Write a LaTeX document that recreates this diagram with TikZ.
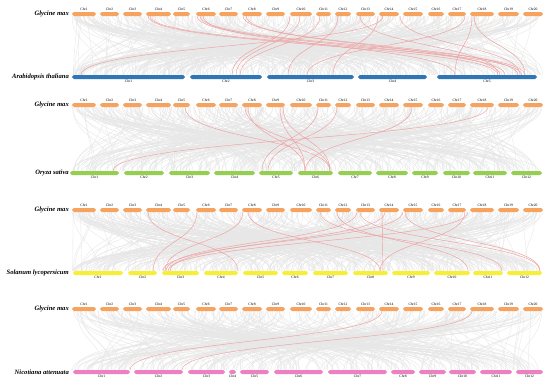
\documentclass[tikz,border=0pt]{standalone}
\usepackage{fontspec}
\setmainfont{Liberation Serif}
\definecolor{gorange}{HTML}{F5A35E}
\definecolor{ablue}{HTML}{2F76B6}
\definecolor{ogreen}{HTML}{94CF52}
\definecolor{syellow}{HTML}{F6EF36}
\definecolor{npink}{HTML}{EC80C1}
\definecolor{synt}{HTML}{E7E7E7}
\definecolor{redl}{HTML}{EFA0A0}
\tikzset{
  chrbar/.style={inner sep=0pt, outer sep=0pt, draw=none, minimum height=4pt, rounded corners=1.8pt},
  chrlab/.style={font=\fontsize{3.6}{4}\selectfont, inner sep=0pt},
  spec/.style={font=\fontsize{6.6}{7}\selectfont\bfseries\itshape, anchor=east, inner sep=0pt},
  grey link/.style={draw=synt, line width=0.35pt},
  red link/.style={draw=redl, line width=0.45pt},
}
% #1 name prefix, #2 bar y, #3 colour, #4 label offset, #5 start/end list
\newcommand\chrrow[5]{%
  \foreach \s/\e [count=\k] in {#5} {
    \node[chrbar, fill=#3, minimum width={(\e-\s)*1pt}] (#1\k) at ({(\s+\e)/2},#2) {};
    \node[chrlab] (#1l\k) at ({(\s+\e)/2},#2+#4) {Chr\k};
  }}
\newcommand\glyrow[2]{\chrrow{#1}{#2}{gorange}{-5}{72/96,100/119,123/142,146/171,173/190,196/216,219/238,242/262,266/285,290/312,316/331,335/351,356/375,379/399,403/423,428/444,448/466,470/494,498/519,523/543}}
% #1 seed, #2 top y, #3 bottom y, #4 count
\newcommand\greylinks[4]{%
  \pgfmathsetseed{#1}
  \foreach \i in {1,...,#4} {
    \pgfmathsetmacro\xa{72+471*rnd}
    \pgfmathsetmacro\xb{72+471*rnd}
    \draw[grey link] (\xa,#2) .. controls (\xa,{(#2+#3)/2}) and (\xb,{(#2+#3)/2}) .. (\xb,#3);
  }}
% #1 top y, #2 bottom y, #3 list top/bottom
\newcommand\redlinks[3]{%
  \foreach \xa/\xb in {#3} {
    \draw[red link] (\xa,#1) .. controls (\xa,{(#1+#2)/2}) and (\xb,{(#1+#2)/2}) .. (\xb,#2);
  }}
\begin{document}
\begin{tikzpicture}[x=1pt,y=-1pt]
\useasboundingbox (0,0) rectangle (550,388);
\fill[white] (0,0) rectangle (550,388);
% ---------- panel 1 ----------
\greylinks{11}{16}{75}{420}
\redlinks{16}{75}{148/498,150/522,197/505,200/525,203/455,243/518,246/500,383/81,290/232,300/236,320/240,338/288,378/333,465/307,472/455,474/525,360/498,400/520}
\glyrow{ga}{14}
\chrrow{at}{77}{ablue}{4.5}{72/185,190/262,267/354,358/427,437/537}
\node[spec] (sp1) at (69,14) {Glycine max};
\node[spec] (sp2) at (69,77) {Arabidopsis thaliana};
% ---------- panel 2 ----------
\greylinks{22}{107}{171}{380}
\redlinks{107}{171}{185/330,245/330,248/305,280/305,283/330,318/262,337/268,412/305,488/113}
\glyrow{gb}{105}
\chrrow{os}{173}{ogreen}{4.5}{70/119,124/164,169/210,214/255,259/293,298/333,338/372,376/408,412/438,443/470,473/507,511/542}
\node[spec] (sp3) at (69,105) {Glycine max};
\node[spec] (sp4) at (69,173) {Oryza sativa};
% ---------- panel 3 ----------
\greylinks{33}{212}{271}{420}
\redlinks{212}{271}{148/238,197/153,243/165,248/380,320/502,337/468,357/166,360/540,382/383,385/170,403/163,405/540,465/380,468/168}
\glyrow{gc}{210}
\chrrow{sl}{273}{syellow}{4.5}{73/123,128/157,162/199,204/238,243/278,282/308,313/348,353/388,392/430,434/470,473/503,507/542}
\node[spec] (sp5) at (69,210) {Glycine max};
\node[spec] (sp6) at (69,273) {Solanum lycopersicum};
% ---------- panel 4 ----------
\greylinks{44}{311}{370}{300}
\redlinks{311}{370}{382/130,472/182}
\glyrow{gd}{309}
\chrrow{na}{372}{npink}{4.5}{73/130,134/183,188/225,229/236,240/269,274/323,328/387,391/415,419/446,449/476,480/512,516/543}
\node[spec] (sp7) at (69,309) {Glycine max};
\node[spec] (sp8) at (69,372) {Nicotiana attenuata};
\end{tikzpicture}
\end{document}
